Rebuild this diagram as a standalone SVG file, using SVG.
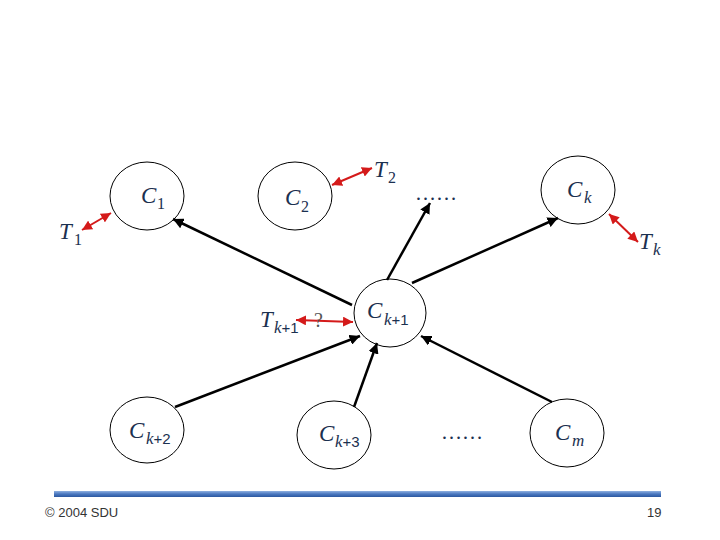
<svg xmlns="http://www.w3.org/2000/svg" width="720" height="540" viewBox="0 0 720 540">
<style>
.node{fill:none;stroke:#000;stroke-width:1}
.lbl{font-family:"Liberation Serif",serif;font-style:italic;fill:#1b3050;font-size:23px}
.sub{font-family:"Liberation Serif",serif;font-style:normal;fill:#1b3050;font-size:16px}
.subs{font-family:"Liberation Sans",sans-serif;font-style:normal;fill:#1b3050;font-size:15px}
.subk{font-family:"Liberation Serif",serif;font-style:italic;fill:#1b3050;font-size:17px}
.blk{stroke:#000;stroke-width:2.5;fill:none;marker-end:url(#ab)}
.red{stroke:#d41a1a;stroke-width:2;fill:none;marker-start:url(#ars);marker-end:url(#are)}
.dots{font-family:"Liberation Serif",serif;font-size:21px;fill:#1b3050}
.foot{font-family:"Liberation Sans",sans-serif;font-size:13px;fill:#333}
</style>
<defs>
<marker id="ab" viewBox="0 0 10 10" refX="10" refY="5" markerWidth="4.2" markerHeight="4.2" orient="auto" markerUnits="strokeWidth"><path d="M0,0 L10,5 L0,10 z" fill="#000"/></marker>
<marker id="are" viewBox="0 0 10 10" refX="10" refY="5" markerWidth="5" markerHeight="5" orient="auto" markerUnits="strokeWidth"><path d="M0,0 L10,5 L0,10 z" fill="#d41a1a"/></marker>
<marker id="ars" viewBox="0 0 10 10" refX="0" refY="5" markerWidth="5" markerHeight="5" orient="auto" markerUnits="strokeWidth"><path d="M10,0 L0,5 L10,10 z" fill="#d41a1a"/></marker>
<linearGradient id="bar" x1="0" y1="0" x2="0" y2="1">
<stop offset="0" stop-color="#8fb0e0"/><stop offset="0.5" stop-color="#4a78c0"/><stop offset="1" stop-color="#2c58a0"/>
</linearGradient>
</defs>
<rect width="720" height="540" fill="#fff"/>
<g id="connectors">
<line class="blk" x1="352" y1="305" x2="173" y2="219"/>
<line class="blk" x1="387" y1="280" x2="430" y2="203"/>
<line class="blk" x1="412" y1="283" x2="558" y2="218"/>
<line class="blk" x1="175" y1="407" x2="360" y2="336"/>
<line class="blk" x1="354" y1="407" x2="377" y2="343"/>
<line class="blk" x1="552" y1="402" x2="421" y2="336"/>
<line class="red" x1="82" y1="230" x2="111" y2="213"/>
<line class="red" x1="332" y1="185" x2="372" y2="168"/>
<line class="red" x1="609" y1="214" x2="638" y2="242"/>
<line class="red" x1="296" y1="320" x2="353" y2="322"/>
</g>
<g id="C1"><ellipse class="node" cx="147" cy="196" rx="37" ry="34"/><text class="lbl" x="141" y="203">C</text><text class="sub" x="157" y="209">1</text></g>
<g id="C2"><ellipse class="node" cx="295" cy="196" rx="37" ry="34"/><text class="lbl" x="285" y="205">C</text><text class="sub" x="301" y="212">2</text></g>
<g id="Ck"><ellipse class="node" cx="578" cy="190" rx="37" ry="34"/><text class="lbl" x="567" y="197">C</text><text class="subk" x="584" y="203">k</text></g>
<g id="Ck1"><ellipse class="node" cx="390" cy="313" rx="36" ry="34"/><text class="lbl" x="367" y="318">C</text><text x="384" y="325"><tspan class="subk">k</tspan><tspan class="subs">+1</tspan></text></g>
<g id="Ck2"><ellipse class="node" cx="147" cy="430" rx="37" ry="33"/><text class="lbl" x="129" y="438">C</text><text x="146" y="444"><tspan class="subk">k</tspan><tspan class="subs">+2</tspan></text></g>
<g id="Ck3"><ellipse class="node" cx="334" cy="435" rx="37" ry="34"/><text class="lbl" x="319" y="441">C</text><text x="335" y="447"><tspan class="subk">k</tspan><tspan class="subs">+3</tspan></text></g>
<g id="Cm"><ellipse class="node" cx="567" cy="433" rx="37" ry="34"/><text class="lbl" x="555" y="440">C</text><text class="subk" x="572" y="446">m</text></g>
<g id="T1"><text class="lbl" x="59" y="239">T</text><text class="sub" x="74" y="245">1</text></g>
<g id="T2"><text class="lbl" x="374" y="177">T</text><text class="sub" x="388" y="183">2</text></g>
<g id="Tk"><text class="lbl" x="639" y="249">T</text><text class="subk" x="653" y="255">k</text></g>
<g id="Tk1"><text class="lbl" x="260" y="327">T</text><text x="274" y="333"><tspan class="subk">k</tspan><tspan class="subs">+1</tspan></text><text x="314" y="327" font-family="Liberation Serif,serif" font-size="20" fill="#555">?</text></g>
<g id="dots1"><text class="dots" x="415" y="200">……</text></g>
<g id="dots2"><text class="dots" x="441" y="439">……</text></g>
<g id="footer">
<rect x="54" y="491" width="607" height="6" fill="url(#bar)"/>
<text class="foot" x="45" y="517">© 2004 SDU</text>
<text class="foot" x="647" y="517">19</text>
</g>
</svg>
